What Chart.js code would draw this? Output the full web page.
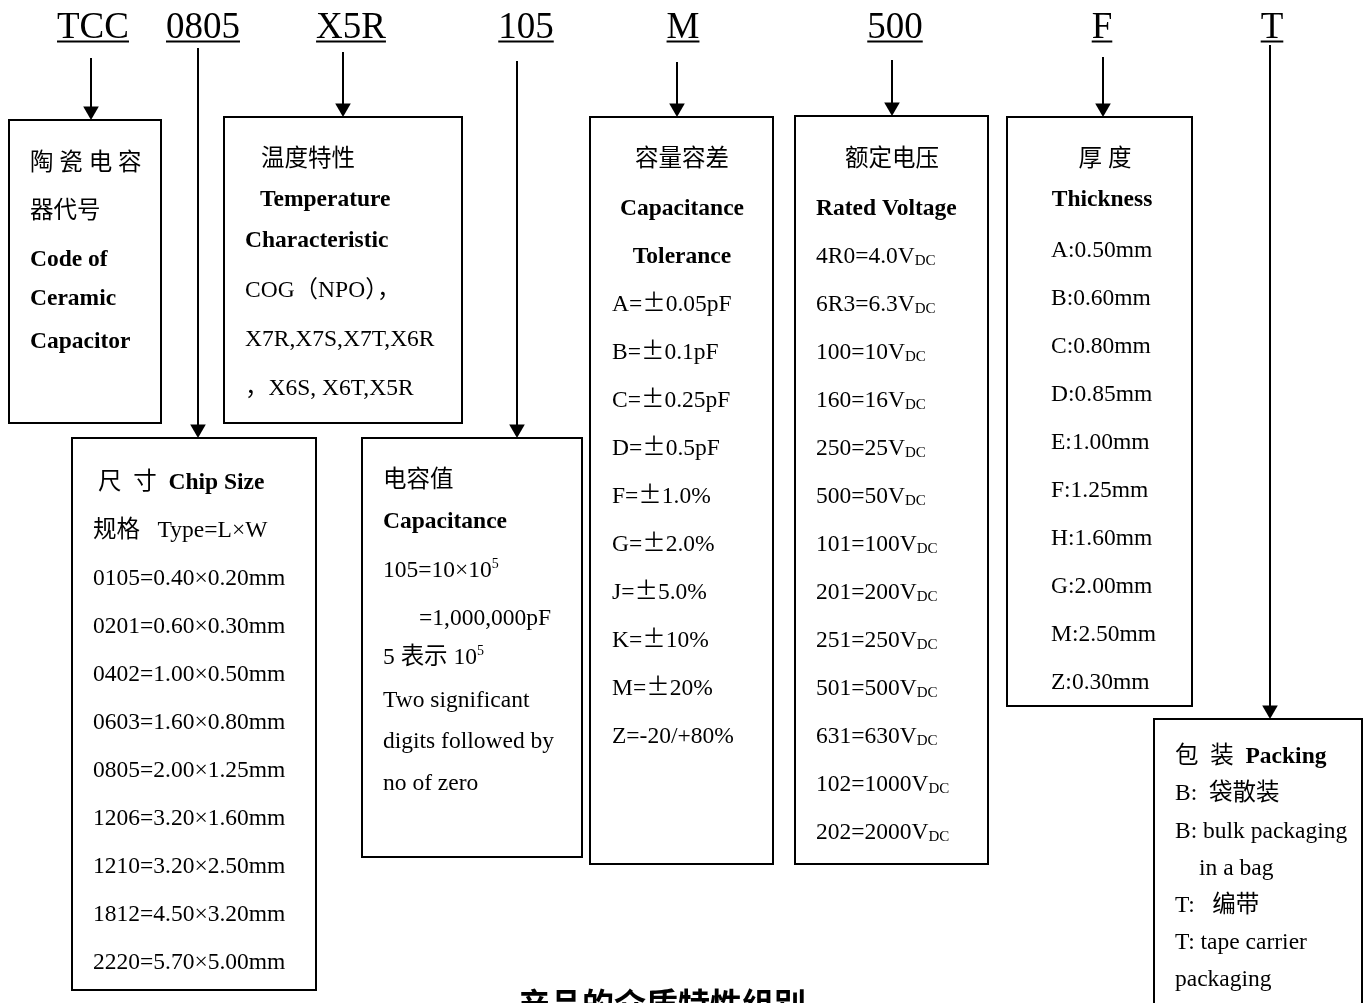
<!DOCTYPE html>
<html>
<head>
<meta charset="utf-8">
<title>TCC 0805 X5R 105 M 500 F T</title>
<script src="https://cdn.jsdelivr.net/npm/chart.js"></script>
<style>
    html, body { margin: 0; padding: 0; background: #fff; overflow: hidden; }
    #quadro { position: relative; width: 1367px; height: 1003px; }
</style>
</head>
<body>
<div id="quadro"><canvas id="graficoCodigo"></canvas></div>
<script>
// textos do código do capacitor
const codigos = ['TCC', '0805', 'X5R', '105', 'M', '500', 'F', 'T']
const linhasCodigo = ['陶 瓷 电 容', '器代号', '**Code of**', '**Ceramic**', '**Capacitor**']
const linhasTemperatura = ['温度特性', '**Temperature**', '**Characteristic**', 'COG（NPO），', 'X7R,X7S,X7T,X6R', '，X6S, X6T,X5R']
const linhasTamanho = ['尺  寸  **Chip Size**', '规格   Type=L×W', '0105=0.40×0.20mm', '0201=0.60×0.30mm', '0402=1.00×0.50mm',
    '0603=1.60×0.80mm', '0805=2.00×1.25mm', '1206=3.20×1.60mm', '1210=3.20×2.50mm', '1812=4.50×3.20mm', '2220=5.70×5.00mm']
const linhasCapacitancia = ['电容值', '**Capacitance**', '105=10×10^{5}', '=1,000,000pF', '5 表示 10^{5}', 'Two significant', 'digits followed by', 'no of zero']
const linhasTolerancia = ['容量容差', '**Capacitance**', '**Tolerance**', 'A=±0.05pF', 'B=±0.1pF', 'C=±0.25pF', 'D=±0.5pF',
    'F=±1.0%', 'G=±2.0%', 'J=±5.0%', 'K=±10%', 'M=±20%', 'Z=-20/+80%']
const linhasTensao = ['额定电压', '**Rated Voltage**', '4R0=4.0V_{DC}', '6R3=6.3V_{DC}', '100=10V_{DC}', '160=16V_{DC}', '250=25V_{DC}',
    '500=50V_{DC}', '101=100V_{DC}', '201=200V_{DC}', '251=250V_{DC}', '501=500V_{DC}', '631=630V_{DC}', '102=1000V_{DC}', '202=2000V_{DC}']
const linhasEspessura = ['厚 度', '**Thickness**', 'A:0.50mm', 'B:0.60mm', 'C:0.80mm', 'D:0.85mm', 'E:1.00mm',
    'F:1.25mm', 'H:1.60mm', 'G:2.00mm', 'M:2.50mm', 'Z:0.30mm']
const linhasEmbalagem = ['包  装  **Packing**', 'B:  袋散装', 'B: bulk packaging', 'in a bag', 'T:   编带', 'T: tape carrier', 'packaging']
const rodape = '产品的介质特性组别'

// posição de cada código no topo e das caixas (layout)
const codigoX = [93, 203, 351, 526, 683, 895, 1102, 1272]

function passo(inicio, n) {
    const ys = []
    for (let i = 0; i < n; i++) ys.push(inicio + 48 * i)
    return ys
}

const caixas = [
    { x0: 9, x1: 161, y0: 120, y1: 423, seta: 91, topo: 58, linhas: linhasCodigo,
      xs: [30, 30, 30, 30, 30], ys: [162, 210, 258, 297, 340] },
    { x0: 72, x1: 316, y0: 438, y1: 990, seta: 198, topo: 48, linhas: linhasTamanho,
      xs: [98, 93, 93, 93, 93, 93, 93, 93, 93, 93, 93], ys: passo(481, 11) },
    { x0: 224, x1: 462, y0: 117, y1: 423, seta: 343, topo: 52, linhas: linhasTemperatura,
      xs: [261, 260, 245, 245, 245, 245], ys: [158, 198, 239, 289, 338, 387] },
    { x0: 362, x1: 582, y0: 438, y1: 857, seta: 517, topo: 61, linhas: linhasCapacitancia,
      xs: [383, 383, 383, 419, 383, 383, 383, 383], ys: [479, 520, 569, 617, 656, 699, 740, 782] },
    { x0: 590, x1: 773, y0: 117, y1: 864, seta: 677, topo: 62, linhas: linhasTolerancia,
      xs: [612], centro: { 0: 682, 1: 682, 2: 682 }, ys: [158, 207].concat(passo(255, 11)) },
    { x0: 795, x1: 988, y0: 116, y1: 864, seta: 892, topo: 60, linhas: linhasTensao,
      xs: [816], centro: { 0: 892 }, ys: [158, 207].concat(passo(255, 13)) },
    { x0: 1007, x1: 1192, y0: 117, y1: 706, seta: 1103, topo: 57, linhas: linhasEspessura,
      xs: [1051], centro: { 0: 1105, 1: 1102 }, ys: [158, 198].concat(passo(249, 10)) },
    { x0: 1154, x1: 1362, y0: 719, y1: 1020, seta: 1270, topo: 45, linhas: linhasEmbalagem,
      xs: [1175, 1175, 1175, 1199, 1175, 1175, 1175], ys: [755, 792, 830, 867, 904, 941, 978] }
]

const SERIF = '"Liberation Serif", "Times New Roman", "Noto Sans CJK SC", serif'
const CJK = '"Noto Sans CJK SC", sans-serif'
const TAM = 23.5

// separa negrito (**), subscrito _{} e sobrescrito ^{}
function partes(texto) {
    const out = []
    texto.split(/(\*\*.+?\*\*|_\{.+?\}|\^\{.+?\})/).forEach(p => {
        if (!p) return
        if (p.startsWith('**')) out.push({ t: p.slice(2, -2), tipo: 'negrito' })
        else if (p.startsWith('_{')) out.push({ t: p.slice(2, -1), tipo: 'sub' })
        else if (p.startsWith('^{')) out.push({ t: p.slice(2, -1), tipo: 'sup' })
        else p.split(/(±)/).forEach(q => { if (q) out.push({ t: q, tipo: q === '±' ? 'cjk' : 'normal' }) })
    })
    return out
}

function fonte(tipo) {
    if (tipo === 'negrito') return 'bold ' + TAM + 'px ' + SERIF
    if (tipo === 'sub') return '15px ' + SERIF
    if (tipo === 'sup') return '14px ' + SERIF
    if (tipo === 'cjk') return TAM + 'px ' + CJK
    return TAM + 'px ' + SERIF
}

function desenhaLinha(ctx, texto, x, y, centrado) {
    const ps = partes(texto)
    let largura = 0
    ps.forEach(p => { ctx.font = fonte(p.tipo); p.w = ctx.measureText(p.t).width; largura += p.w })
    let cx = centrado ? x - largura / 2 : x
    ps.forEach(p => {
        ctx.font = fonte(p.tipo)
        const dy = p.tipo === 'sub' ? 2 : (p.tipo === 'sup' ? -9 : 0)
        ctx.fillText(p.t, cx, y + dy)
        cx += p.w
    })
}

const pluginTextos = {
    id: 'textos',
    afterDatasetsDraw(chart) {
        const ctx = chart.ctx
        const sx = v => chart.scales.x.getPixelForValue(v)
        const sy = v => chart.scales.y.getPixelForValue(v)
        ctx.save()
        ctx.fillStyle = '#000'
        ctx.textAlign = 'left'
        ctx.textBaseline = 'alphabetic'

        // códigos sublinhados no topo
        ctx.font = '37px ' + SERIF
        for (let i = 0; i < codigos.length; i++) {
            const w = ctx.measureText(codigos[i]).width
            const x = sx(codigoX[i]) - w / 2
            ctx.fillText(codigos[i], x, sy(38))
            ctx.fillRect(x, sy(40.5), w, 2)
        }

        // textos das caixas
        caixas.forEach(c => {
            c.linhas.forEach((linha, i) => {
                const centro = c.centro && c.centro[i] !== undefined
                const x = centro ? c.centro[i] : (c.xs[i] !== undefined ? c.xs[i] : c.xs[0])
                desenhaLinha(ctx, linha, sx(x), sy(c.ys[i] + 8), centro)
            })
        })

        // título de baixo (cortado na borda)
        ctx.font = 'bold 32px ' + CJK
        ctx.textAlign = 'center'
        ctx.fillText(rodape, sx(662), sy(1016))
        ctx.restore()
    }
}

const conjuntos = []
caixas.forEach(c => {
    conjuntos.push({
        data: [{ x: c.x0, y: c.y0 }, { x: c.x1, y: c.y0 }, { x: c.x1, y: c.y1 }, { x: c.x0, y: c.y1 }, { x: c.x0, y: c.y0 }],
        showLine: true, borderColor: '#000', borderWidth: 2, pointRadius: 0,
        borderCapStyle: 'square', borderJoinStyle: 'miter', clip: false
    })
    conjuntos.push({
        data: [{ x: c.seta, y: c.topo }, { x: c.seta, y: c.y0 - 12 }],
        showLine: true, borderColor: '#000', borderWidth: 2, pointRadius: 0, clip: false
    })
})
// pontas das setas
conjuntos.push({
    data: caixas.map(c => ({ x: c.seta, y: c.y0 - 9 })),
    showLine: false, pointStyle: 'triangle', rotation: 180, pointRadius: 9,
    backgroundColor: '#000', borderColor: '#000', borderWidth: 0, clip: false
})

new Chart(document.getElementById('graficoCodigo'), {
    type: 'scatter',
    data: { datasets: conjuntos },
    options: {
        responsive: true,
        maintainAspectRatio: false,
        animation: false,
        events: [],
        layout: { padding: 0, autoPadding: false },
        plugins: { legend: { display: false }, tooltip: { enabled: false } },
        scales: {
            x: { type: 'linear', min: 0, max: 1367, display: false },
            y: { type: 'linear', min: 0, max: 1003, reverse: true, display: false }
        }
    },
    plugins: [pluginTextos]
})
</script>
</body>
</html>
